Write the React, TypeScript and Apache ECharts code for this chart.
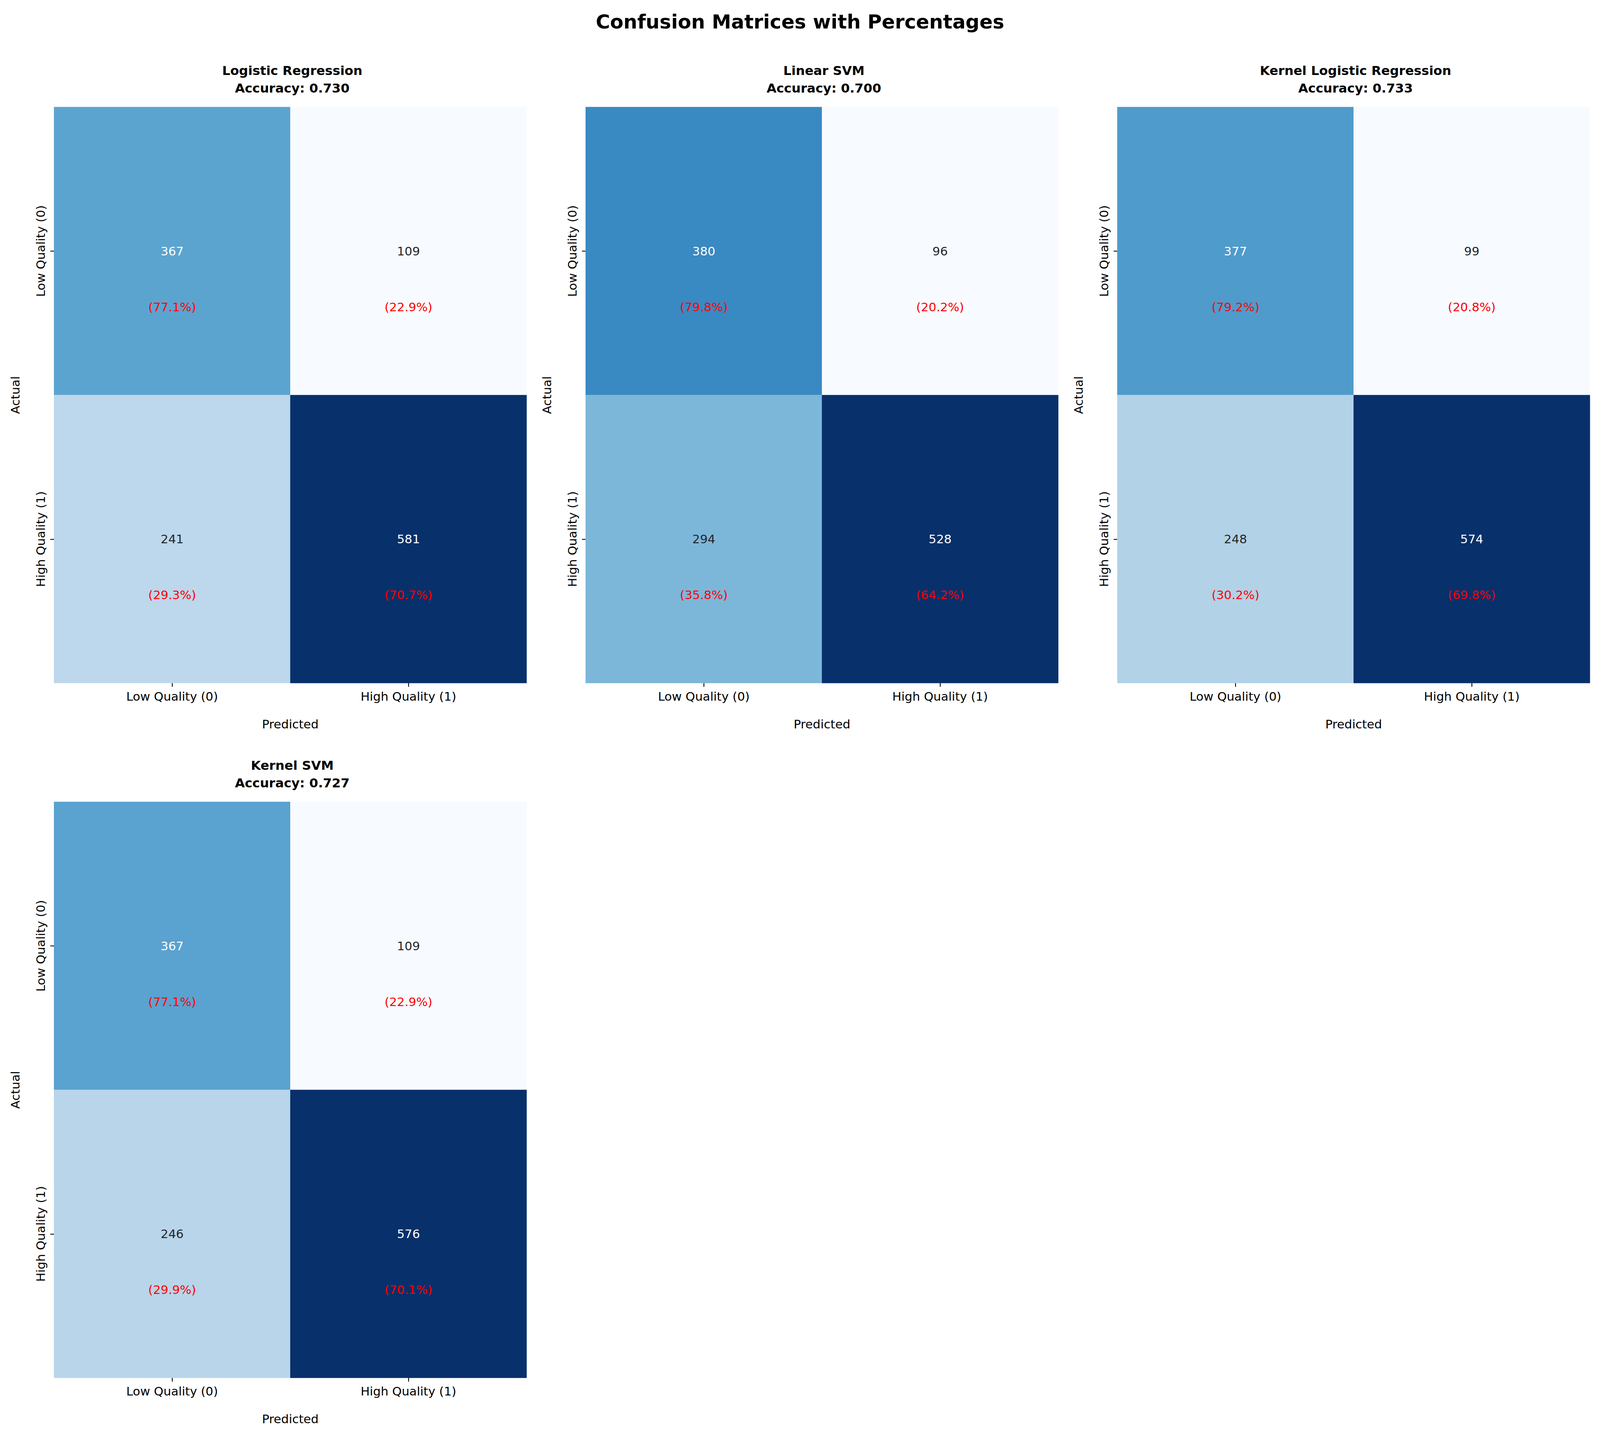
import React, { useEffect, useRef, useState } from "react";
import * as echarts from "echarts";

const classes = ["Low Quality (0)", "High Quality (1)"];
const modelNames = ["Logistic Regression", "Linear SVM", "Kernel Logistic Regression", "Kernel SVM"];
const accuracies = ["0.730", "0.700", "0.733", "0.727"];
const lrMatrix = [[367, 109], [241, 581]];
const linSvmMatrix = [[380, 96], [294, 528]];
const klrMatrix = [[377, 99], [248, 574]];
const ksvmMatrix = [[367, 109], [246, 576]];
const matrices = [lrMatrix, linSvmMatrix, klrMatrix, ksvmMatrix];
const blues = ["#f7fbff", "#deebf7", "#c6dbef", "#9ecae1", "#6baed6", "#4292c6", "#2171b5", "#08519c", "#08306b"];

const RW = 4770, RH = 3687;
const lefts = [161, 1746, 3331, 161];
const tops = [274, 274, 274, 2053];
const GW = 1409, GH = 1475;
const FONT = "DejaVu Sans";

export default function App() {
  const ref = useRef<HTMLDivElement>(null);
  const [size] = useState(() => {
    document.body.style.margin = "0";
    document.body.style.overflow = "hidden";
    return { w: window.innerWidth || RW, h: window.innerHeight || RH };
  });
  useEffect(() => {
    const sx = size.w / RW, sy = size.h / RH, s = Math.min(sx, sy);
    const chart = echarts.init(ref.current!, null, { renderer: "svg" });
    const grids: any[] = [], xAxes: any[] = [], yAxes: any[] = [], series: any[] = [], vms: any[] = [], titles: any[] = [];
    titles.push({
      text: "Confusion Matrices with Percentages", left: "center", top: 26 * sy,
      textStyle: { fontFamily: FONT, fontSize: 58 * s, fontWeight: "bold", color: "#000" },
    });
    matrices.forEach((m, i) => {
      grids.push({ left: lefts[i] * sx, top: tops[i] * sy, width: GW * sx, height: GH * sy });
      titles.push({
        text: modelNames[i] + "\nAccuracy: " + accuracies[i],
        left: (lefts[i] + GW / 2) * sx, textAlign: "center", top: (tops[i] - 120) * sy,
        textStyle: { fontFamily: FONT, fontSize: 38 * s, fontWeight: "bold", color: "#000", lineHeight: 52 * s },
      });
      const tick = { show: true, alignWithLabel: true, length: 11 * s, lineStyle: { color: "#000", width: 2.5 * s } };
      xAxes.push({
        type: "category", gridIndex: i, data: classes, name: "Predicted", nameLocation: "middle", nameGap: 104 * s,
        nameTextStyle: { fontFamily: FONT, fontSize: 36 * s, color: "#000" },
        axisLine: { show: false }, splitLine: { show: false }, axisTick: tick,
        axisLabel: { fontFamily: FONT, fontSize: 36 * s, color: "#000", margin: 22 * s },
      });
      yAxes.push({
        type: "category", gridIndex: i, data: classes, inverse: true, name: "Actual", nameLocation: "middle", nameGap: 98 * s,
        nameTextStyle: { fontFamily: FONT, fontSize: 36 * s, color: "#000" },
        axisLine: { show: false }, splitLine: { show: false }, axisTick: tick,
        axisLabel: { fontFamily: FONT, fontSize: 36 * s, color: "#000", rotate: 90, margin: 22 * s },
      });
      const flat = m.flat();
      const mn = Math.min(...flat), mx = Math.max(...flat);
      const data: any[] = [];
      m.forEach((row, r) => {
        const tot = row[0] + row[1];
        row.forEach((v, c) => data.push({ value: [c, r, v], pct: ((v / tot) * 100).toFixed(1), dark: (v - mn) / (mx - mn) > 0.5 }));
      });
      vms.push({ type: "continuous", seriesIndex: i, min: mn, max: mx, show: false, dimension: 2, inRange: { color: blues } });
      const lh = 143 * sy;
      series.push({
        type: "heatmap", xAxisIndex: i, yAxisIndex: i, data,
        label: {
          show: true, offset: [0, lh / 2],
          formatter: (p: any) => `{${p.data.dark ? "w" : "k"}|${p.data.value[2]}}\n{p|(${p.data.pct}%)}`,
          rich: {
            w: { fontFamily: FONT, fontSize: 36 * s, color: "#fff", lineHeight: lh },
            k: { fontFamily: FONT, fontSize: 36 * s, color: "#262626", lineHeight: lh },
            p: { fontFamily: FONT, fontSize: 36 * s, color: "#ff0000", lineHeight: lh },
          },
        },
        emphasis: { disabled: true },
      });
    });
    chart.setOption({
      animation: false, backgroundColor: "#fff", title: titles, grid: grids,
      xAxis: xAxes, yAxis: yAxes, visualMap: vms, series,
    });
    return () => chart.dispose();
  }, [size]);
  return <div ref={ref} style={{ width: size.w, height: size.h }} />;
}
